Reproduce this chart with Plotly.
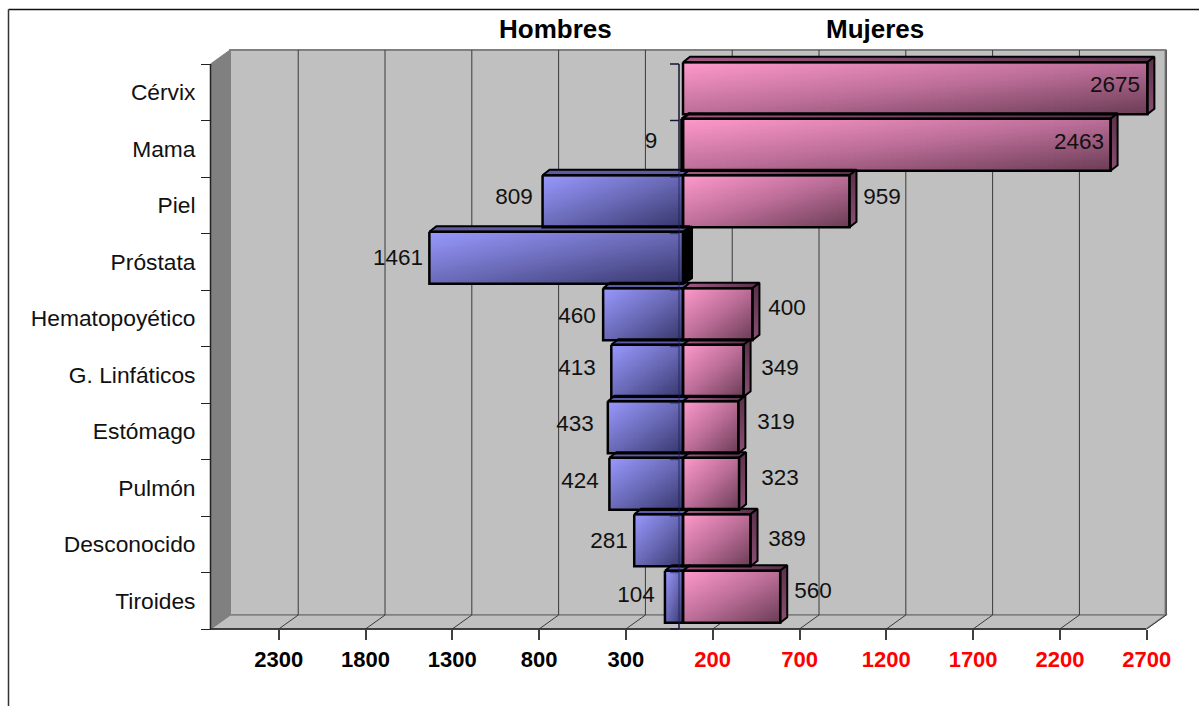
import numpy as np
import plotly.graph_objects as go

categories = ["Cérvix", "Mama", "Piel", "Próstata", "Hematopoyético", "G. Linfáticos",
              "Estómago", "Pulmón", "Desconocido", "Tiroides"]
hombres = [0, 9, 809, 1461, 460, 413, 433, 424, 281, 104]
mujeres = [2675, 2463, 959, 0, 400, 349, 319, 323, 389, 560]
ticks_hombres = [2300, 1800, 1300, 800, 300]
ticks_mujeres = [200, 700, 1200, 1700, 2200, 2700]

# label placement (pixel centres of the reference labels)
lab_h = {"x": [None, 651, 514, 398, 577, 577, 575, 580, 609, 636],
         "y": [None, 141, 197, 258, 316, 368, 424, 481, 541, 595]}
lab_m = {"x": [1115, 1079, 882, None, 787, 780, 776, 780, 787, 813],
         "y": [85, 142, 197, None, 308, 368, 422, 478, 539, 591]}

W, H = 1199, 706
SX = 0.1736      # px per unit
ZERO = 678.0     # px of value 0 on the front plane
BAND = 56.5      # px per category
TOP = 64.0       # px of first category boundary


def X(px):
    return (px - ZERO) / SX


def Y(py):
    return (py - TOP) / BAND - 0.5


def dxu(px):
    return px / SX


def dyu(px):
    return px / BAND


FONT = "Liberation Sans"
BASE = dxu(5)
HALF = dyu(26)
SHIFT_Y = dyu(-4)
DEPTH_X = dxu(7)
DEPTH_Y = dyu(-5.5)
WALL_X = dxu(19.5)
WALL_Y = dyu(-14)
y_front = len(categories) - 0.5   # bottom boundary
y_back_top = -0.5 + WALL_Y
y_back_bot = y_front + WALL_Y
x_min, x_max = X(210.5), X(1146)

PINK = [[0, "#FF99CC"], [0.5, "#BC6E98"], [1, "#6A3C55"]]
BLUE = [[0, "#9999FF"], [0.5, "#6A6AB8"], [1, "#36366C"]]

fig = go.Figure()


def front(x0, x1, yc, scale):
    nx, ny = 60, 30
    u = (np.arange(nx) + 0.5) / nx
    v = (np.arange(ny) + 0.5) / ny
    z = (u[None, :] + v[:, None]) / 2
    fig.add_trace(go.Heatmap(z=z, x0=x0 + (x1 - x0) / nx / 2, dx=(x1 - x0) / nx,
                             y0=yc - HALF + HALF / ny, dy=2 * HALF / ny,
                             colorscale=scale, zmin=0, zmax=1, showscale=False, hoverinfo="skip"))


def poly(xs, ys, fill, line="#000000", width=2, grad=None):
    kw = dict(x=xs, y=ys, mode="lines", fill="toself", hoverinfo="skip", showlegend=False,
              line=dict(color=line, width=width))
    if grad is not None:
        kw["fillgradient"] = grad
    else:
        kw["fillcolor"] = fill
    fig.add_trace(go.Scatter(**kw))


rows = list(range(len(categories)))[::-1]
for i in rows:
    yc = i + SHIFT_Y
    if hombres[i] > 0:
        front(BASE - hombres[i], BASE, yc, BLUE)
    if mujeres[i] > 0:
        front(BASE, BASE + mujeres[i], yc, PINK)

for i in rows:
    yc = i + SHIFT_Y
    yt, yb = yc - HALF, yc + HALF
    if hombres[i] > 0:
        x0 = BASE - hombres[i]
        poly([x0, x0 + DEPTH_X, BASE + DEPTH_X, BASE, x0], [yt, yt + DEPTH_Y, yt + DEPTH_Y, yt, yt], "#5C5CA6")
    if mujeres[i] > 0:
        x1 = BASE + mujeres[i]
        poly([BASE, BASE + DEPTH_X, x1 + DEPTH_X, x1, BASE], [yt, yt + DEPTH_Y, yt + DEPTH_Y, yt, yt], None,
             grad=dict(type="horizontal", colorscale=[[0, "#A35A85"], [1, "#55304A"]]))
        poly([x1, x1 + DEPTH_X, x1 + DEPTH_X, x1, x1], [yt, yt + DEPTH_Y, yb + DEPTH_Y, yb, yt], None,
             grad=dict(type="vertical", colorscale=[[0, "#8A4E74"], [1, "#5A3049"]]))
    elif hombres[i] > 0:
        poly([BASE, BASE + dxu(9), BASE + dxu(9), BASE, BASE],
             [yt, yt + DEPTH_Y, yb + DEPTH_Y, yb, yt], "#000000")

for i in rows:
    yc = i + SHIFT_Y
    yt, yb = yc - HALF, yc + HALF
    if hombres[i] > 0:
        x0 = BASE - hombres[i]
        poly([x0, BASE, BASE, x0, x0], [yt, yt, yb, yb, yt], "rgba(0,0,0,0)", width=2.5)
    if mujeres[i] > 0:
        x1 = BASE + mujeres[i]
        poly([BASE, x1, x1, BASE, BASE], [yt, yt, yb, yb, yt], "rgba(0,0,0,0)", width=2.5)

# centre axis seen through the bars
cx, cy = [X(679), X(679)], [-0.5, y_front]
for b in range(len(categories) + 1):
    cx += [None, X(670), X(679)]
    cy += [None, b - 0.5, b - 0.5]
fig.add_trace(go.Scatter(x=cx, y=cy, mode="lines", hoverinfo="skip", showlegend=False,
                         line=dict(color="rgba(30,30,90,0.55)", width=1.5)))

# value labels
for vals, lab in ((hombres, lab_h), (mujeres, lab_m)):
    xs, ys, ts = [], [], []
    for v, lx, ly in zip(vals, lab["x"], lab["y"]):
        if v > 0 and lx is not None:
            xs.append(X(lx))
            ys.append(Y(ly + 1.5))
            ts.append(str(v))
    fig.add_trace(go.Scatter(x=xs, y=ys, text=ts, mode="text", textposition="middle center", hoverinfo="skip",
                             showlegend=False, textfont=dict(family=FONT, size=22.5, color="#111111")))

shapes = []
def line(x0, y0, x1, y1, color="#000000", width=1, layer="below", xref="x", yref="y"):
    shapes.append(dict(type="line", x0=x0, y0=y0, x1=x1, y1=y1, xref=xref, yref=yref, layer=layer,
                       line=dict(color=color, width=width)))

# chart frame (top and left only)
line(X(8.5), Y(9.5), X(1199), Y(9.5), "#111111", 1.5)
line(X(8.5), Y(9.5), X(8.5), Y(706), "#333333", 1.5)

# walls
shapes.append(dict(type="rect", x0=x_min + WALL_X, x1=x_max + WALL_X, y0=y_back_top, y1=y_back_bot, layer="below",
                   fillcolor="#C0C0C0", line=dict(color="#808080", width=2)))
shapes.append(dict(type="path", layer="below", fillcolor="#C0C0C0", line=dict(color="#808080", width=1.5),
                   path=f"M {x_min},{y_front} L {x_min + WALL_X},{y_back_bot} L {x_max + WALL_X},{y_back_bot} "
                        f"L {x_max},{y_front} Z"))
shapes.append(dict(type="path", layer="below", fillcolor="#808080", line=dict(color="#808080", width=1),
                   path=f"M {x_min},-0.5 L {x_min + WALL_X},{y_back_top} L {x_min + WALL_X},{y_back_bot} "
                        f"L {x_min},{y_front} Z"))

# gridlines, from the back wall down over the floor to the front ticks
all_ticks = [-t for t in ticks_hombres] + ticks_mujeres
for t in all_ticks:
    line(t + WALL_X, y_back_top, t + WALL_X, y_back_bot, "#3A3A3A", 1)
    line(t, y_front, t + WALL_X, y_back_bot, "#3A3A3A", 1)
line(x_min, y_front, x_max, y_front, "#222222", 1.5)
line(x_min, -0.5, x_min, y_front, "#222222", 1.5)
line(X(679), -0.5, X(679), y_front, "#111111", 1.2)
for b in range(len(categories) + 1):
    line(X(670), b - 0.5, X(679), b - 0.5, "#111111", 1.2)

tick_text = [f"<b>{t}</b>" for t in ticks_hombres] + [f'<b><span style="color:#FF0000">{t}</span></b>' for t in ticks_mujeres]

fig.update_layout(
    width=W, height=H, margin=dict(l=0, r=0, t=0, b=0), paper_bgcolor="#FFFFFF", plot_bgcolor="rgba(0,0,0,0)",
    showlegend=False, shapes=shapes,
    xaxis=dict(range=[X(0), X(W)], domain=[0, 1], anchor="free", position=1 - 629 / H, showgrid=False, zeroline=False,
               showline=False, tickmode="array", tickvals=all_ticks, ticktext=tick_text, ticks="outside", ticklen=10,
               tickcolor="#404040", tickwidth=1.5, ticklabelstandoff=1,
               tickfont=dict(family=FONT, size=22, color="#000000")),
    yaxis=dict(range=[Y(H), Y(0)], domain=[0, 1], anchor="free", position=210.5 / W, showgrid=False, zeroline=False,
               showline=False, tickmode="array",
               tickvals=list(range(len(categories))), ticktext=categories, ticks="", ticklabelstandoff=15,
               tickfont=dict(family=FONT, size=22.8, color="#111111"),
               minor=dict(tickmode="array", tickvals=[b - 0.5 for b in range(len(categories) + 1)], ticks="outside",
                          ticklen=10, tickcolor="#222222", tickwidth=1.2)),
    annotations=[
        dict(text="<b>Hombres</b>", x=X(555), y=Y(29), xref="x", yref="y", showarrow=False,
             font=dict(family=FONT, size=26, color="#000000")),
        dict(text="<b>Mujeres</b>", x=X(875), y=Y(29), xref="x", yref="y", showarrow=False,
             font=dict(family=FONT, size=26, color="#000000")),
    ],
)

fig.write_html("out.html", config={"displayModeBar": False},
               post_script="document.body.style.margin='0';document.body.style.overflow='hidden';")
